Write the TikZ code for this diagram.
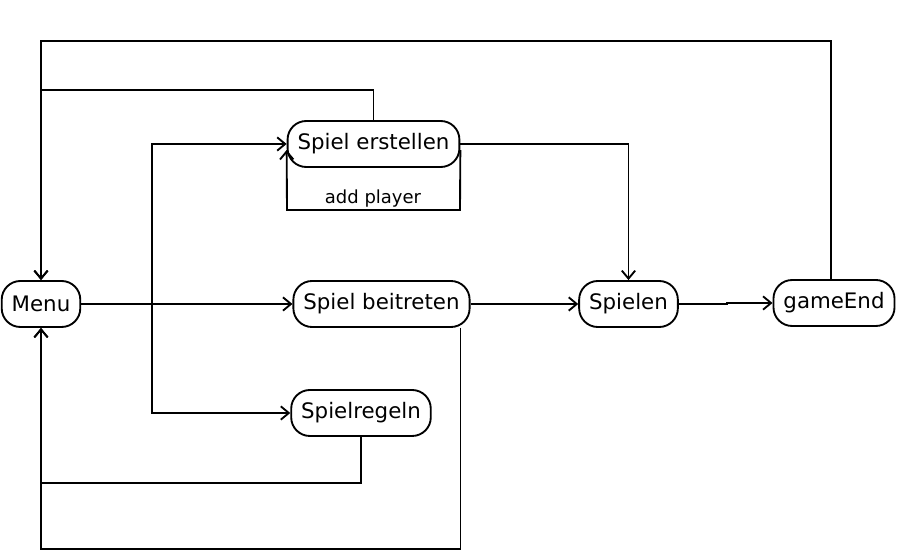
\documentclass[tikz,border=0pt]{standalone}
\usepackage{fontspec}
\setmainfont{DejaVu Sans}
\usetikzlibrary{arrows.meta, calc}

\begin{document}
\begin{tikzpicture}[x=0.75pt, y=-0.75pt, line width=1.4pt,
    >={Straight Barb[length=6pt, width=10pt]},
    zustand/.style={draw, rectangle, rounded corners=14pt, minimum height=34.5pt,
        inner xsep=7.5pt, font=\fontsize{16}{19}\selectfont}]
                        \useasboundingbox (0,0) rectangle (897,552);
                        \node[zustand] (menu) at (41,304) {Menu};
                        \node[zustand] (erstellen) at (373.5,144) {Spiel erstellen};
                        \node[zustand] (beitreten) at (381.5,304) {Spiel beitreten};
                        \node[zustand] (regeln) at (361,413) {Spielregeln};
                        \node[zustand] (spielen) at (628.5,304) {Spielen};
                        \node[zustand] (gameEnd) at (834,303) {gameEnd};
                        \coordinate (branch) at (152,304);
                        \coordinate (loopR) at (460,210);
                        \coordinate (loopL) at (287,210);
                        \draw[->] (menu.east) -- (beitreten.west);
                        \draw[->] (branch) |- (erstellen.west);
                        \draw[->] (branch) |- (regeln.west);
                        \draw[->] ([yshift=-4.5pt]erstellen.east) -- (loopR) -- (loopL) -- ([yshift=-4.5pt]erstellen.west);
                        \node[font=\fontsize{13.5}{16}\selectfont] (addplayer) at (373,199) {add player};
                        \draw[->] (erstellen.east) -| (spielen.north);
                        \draw[->] (beitreten.east) -- (spielen.west);
                        \draw[->] (spielen.east) -- ++(48,0) |- (gameEnd.west);
                        \draw[->] (erstellen.north) -- ++(0,-30) -| (menu.north);
                        \draw[->] ([xshift=-2.25pt]gameEnd.north) -- ++(0,-238) -| (menu.north);
                        \draw[->] ([xshift=-7.5pt]beitreten.south east) -- ++(0,221) -| (menu.south);
                        \draw[->] (regeln.south) -- ++(0,46) -| (menu.south);
                    \end{tikzpicture}
\end{document}
